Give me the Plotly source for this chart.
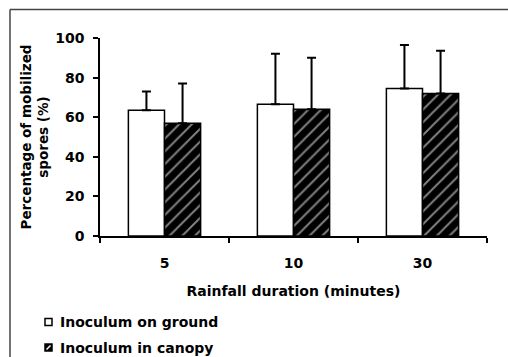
import plotly.graph_objects as go

# Rainfall duration categories (minutes)
durations = ["5", "10", "30"]

# Mean percentage of mobilized spores and upper error (SD)
ground_mean = [63.5, 66.5, 74.5]
ground_err = [9.5, 25.5, 22.0]
canopy_mean = [57.0, 64.0, 72.0]
canopy_err = [20.0, 26.0, 21.5]

y_ticks = [0, 20, 40, 60, 80, 100]
legend_labels = ["Inoculum on ground", "Inoculum in canopy"]

W, H = 508, 357
M = dict(l=100, r=21, t=38, b=121)

FONT = "DejaVu Sans, sans-serif"
FS = 14


def px_x(p):
    return (p - M["l"]) / (W - M["l"] - M["r"])


def px_y(p):
    return 1 - (p - M["t"]) / (H - M["t"] - M["b"])


fig = go.Figure()

fig.add_trace(go.Bar(
    x=durations, y=ground_mean, name=legend_labels[0],
    marker=dict(color="white", line=dict(color="black", width=1.5)),
    error_y=dict(type="data", array=ground_err, arrayminus=[0] * 3,
                 symmetric=False, color="black", thickness=2, width=4.5),
    showlegend=False,
))
fig.add_trace(go.Bar(
    x=durations, y=canopy_mean, name=legend_labels[1],
    marker=dict(color="black", line=dict(color="black", width=1.5),
                pattern=dict(shape="/", fgcolor="white", bgcolor="black",
                             size=9, solidity=0.22)),
    error_y=dict(type="data", array=canopy_err, arrayminus=[0] * 3,
                 symmetric=False, color="black", thickness=2, width=4.5),
    showlegend=False,
))

shapes = [
    # outer frame (top and left edges)
    dict(type="line", xref="paper", yref="paper",
         x0=px_x(10), x1=px_x(508), y0=px_y(9.5), y1=px_y(9.5),
         line=dict(color="#444", width=1.5)),
    dict(type="line", xref="paper", yref="paper",
         x0=px_x(10), x1=px_x(10), y0=px_y(9.5), y1=px_y(357),
         line=dict(color="#444", width=1.5)),
    # legend swatches
    dict(type="rect", xref="paper", yref="paper",
         x0=px_x(45), x1=px_x(52), y0=px_y(318.5), y1=px_y(325.5),
         line=dict(color="black", width=1.5), fillcolor="white"),
    dict(type="rect", xref="paper", yref="paper",
         x0=px_x(45), x1=px_x(52), y0=px_y(344), y1=px_y(351),
         line=dict(color="black", width=1.5), fillcolor="black"),
    dict(type="line", xref="paper", yref="paper",
         x0=px_x(46.5), x1=px_x(50.5), y0=px_y(349.5), y1=px_y(345.5),
         line=dict(color="white", width=1.5)),
]

annotations = [
    dict(text=legend_labels[0], xref="paper", yref="paper",
         x=px_x(58), y=px_y(322), xanchor="left", yanchor="middle",
         showarrow=False, font=dict(family=FONT, size=FS, color="black", weight="bold")),
    dict(text=legend_labels[1], xref="paper", yref="paper",
         x=px_x(58), y=px_y(347.5), xanchor="left", yanchor="middle",
         showarrow=False, font=dict(family=FONT, size=FS, color="black", weight="bold")),
]

fig.update_layout(
    width=W, height=H, margin=M,
    paper_bgcolor="white", plot_bgcolor="white",
    barmode="group", bargap=0.44, bargroupgap=0,
    font=dict(family=FONT, size=FS, color="black", weight="bold"),
    shapes=shapes, annotations=annotations,
    xaxis=dict(
        type="category", tickson="boundaries", ticks="outside", ticklen=5,
        tickwidth=1.5, tickcolor="black", showline=True, linecolor="black",
        linewidth=1.5, showgrid=False, ticklabelstandoff=13,
        title=dict(text="Rainfall duration (minutes)", standoff=17,
                   font=dict(family=FONT, size=FS, weight="bold")),
    ),
    yaxis=dict(
        range=[0, 100], tickvals=y_ticks, ticks="outside", ticklen=5,
        tickwidth=1.5, tickcolor="black", showline=True, linecolor="black",
        linewidth=1.5, showgrid=False, zeroline=False, ticklabelstandoff=6,
        title=dict(text="Percentage of mobilized<br>spores (%)", standoff=3,
                   font=dict(family=FONT, size=13.5, weight="bold")),
    ),
)

fig.write_html("out.html")
